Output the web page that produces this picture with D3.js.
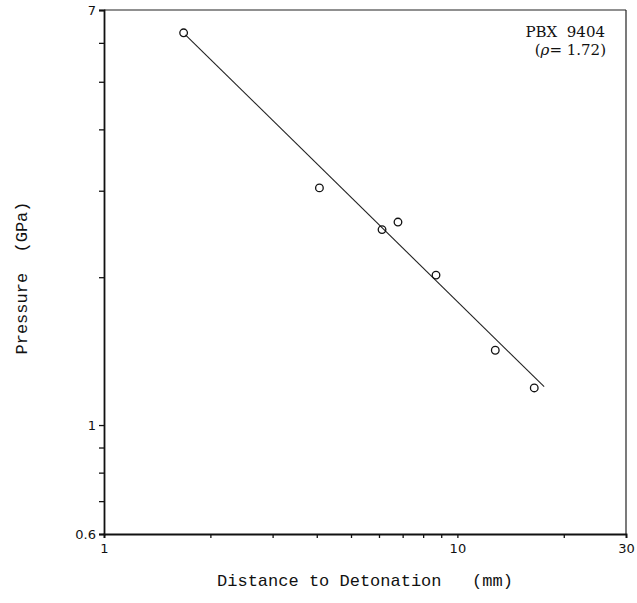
<!DOCTYPE html>
<html><head><meta charset="utf-8">
<script src="https://cdn.jsdelivr.net/npm/d3@7"></script>
<style>body{margin:0;background:#fff}svg{display:block}</style>
</head><body>
<svg id="c" width="637" height="603"></svg>
<script>
// data (log-log)
const distance = [1.68, 4.07, 6.12, 6.79, 8.70, 12.8, 16.5];   // mm
const pressure = [6.29, 3.04, 2.50, 2.59, 2.02, 1.42, 1.19];   // GPa
const fitDistance = [1.70, 17.6];
const fitPressure = [6.23, 1.197];
const xTicks = [1,2,3,4,5,6,7,8,9,10,20,30];
const xTickLabels = {1:"1", 10:"10", 30:"30"};
const yTicks = [0.6,0.7,0.8,0.9,1,2,3,4,5,6,7];
const yTickLabels = {0.6:"0.6", 1:"1", 7:"7"};
const xTitle = "Distance to Detonation   (mm)";
const yTitle = "Pressure  (GPa)";

const svg = d3.select("#c");
const L=104, R=626, T=10, B=534;
const x = d3.scaleLog().domain([1,30]).range([L,R]);
const y = d3.scaleLog().domain([0.6,7]).range([B,T]);

// frame
svg.append("line").attr("x1",L).attr("x2",R).attr("y1",T).attr("y2",T).attr("stroke","#222").attr("stroke-width",1.2);
svg.append("line").attr("x1",R).attr("x2",R).attr("y1",T).attr("y2",B).attr("stroke","#222").attr("stroke-width",1.2);

const xAxis = svg.append("g").attr("transform",`translate(0,${B})`)
  .call(d3.axisBottom(x).tickValues(xTicks).tickSize(4).tickFormat(d=>xTickLabels[d]||""));
const yAxis = svg.append("g").attr("transform",`translate(${L},0)`)
  .call(d3.axisLeft(y).tickValues(yTicks).tickSize(5).tickFormat(d=>yTickLabels[d]||""));
[xAxis,yAxis].forEach(a=>{
  a.select(".domain").attr("stroke","#111").attr("stroke-width",1.8);
  a.selectAll(".tick line").attr("stroke","#111").attr("stroke-width",1.3);
  a.selectAll("text").attr("fill","#111").style("font-family","'DejaVu Sans', sans-serif").style("font-size","13px");
});
xAxis.selectAll(".tick text").attr("dy","0.95em");
yAxis.selectAll(".tick text").attr("x",-8);

// fitted line
const line = d3.line().x(d=>x(d[0])).y(d=>y(d[1]));
svg.append("path").datum(fitDistance.map((d,i)=>[d,fitPressure[i]]))
  .attr("d",line).attr("fill","none").attr("stroke","#222").attr("stroke-width",1.1);

// points
svg.selectAll("circle.p").data(distance.map((d,i)=>[d,pressure[i]])).enter()
  .append("circle").attr("class","p")
  .attr("cx",d=>x(d[0])).attr("cy",d=>y(d[1])).attr("r",3.8)
  .attr("fill","none").attr("stroke","#111").attr("stroke-width",1.3);

// annotation
svg.append("text").attr("x",605).attr("y",37).attr("text-anchor","end")
  .style("font-family","'DejaVu Serif', serif").style("font-size","15px").attr("fill","#111")
  .style("white-space","pre").text("PBX  9404");
const t2 = svg.append("text").attr("x",606).attr("y",55).attr("text-anchor","end")
  .style("font-family","'DejaVu Serif', serif").style("font-size","15px").attr("fill","#111");
t2.append("tspan").text("(");
t2.append("tspan").style("font-style","italic").text("ρ");
t2.append("tspan").text("= 1.72)");

// titles
svg.append("text").attr("x",365).attr("y",586).attr("text-anchor","middle")
  .style("font-family","'Liberation Mono', monospace").style("font-size","17px").attr("fill","#111")
  .style("white-space","pre")
  .text(xTitle);
svg.append("text").attr("transform","translate(27,278) rotate(-90)").attr("text-anchor","middle")
  .style("font-family","'Liberation Mono', monospace").style("font-size","17px").attr("fill","#111")
  .style("white-space","pre")
  .text(yTitle);
</script>
</body></html>
